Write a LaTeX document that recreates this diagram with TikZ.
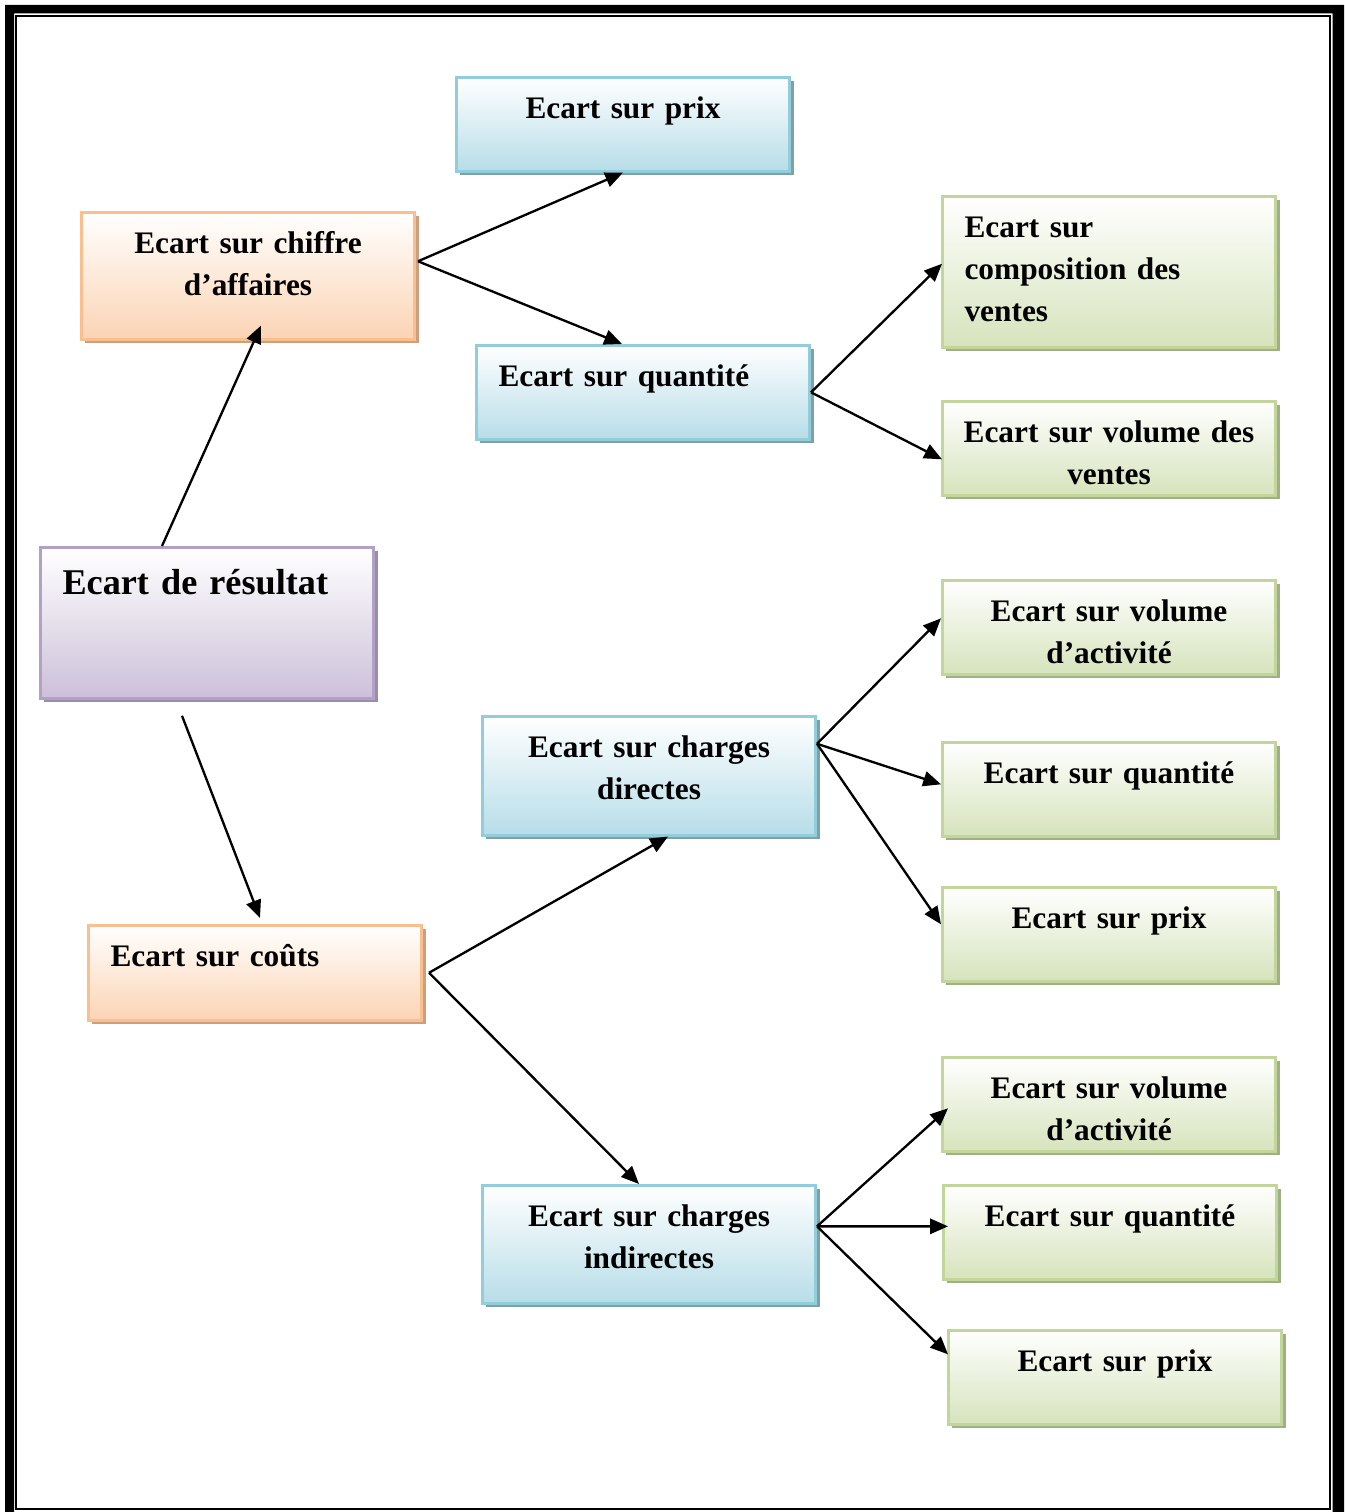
\documentclass[tikz,border=0pt]{standalone}
\usepackage{fontspec}
\setmainfont{Liberation Serif}
\usepackage{tikz}
\usetikzlibrary{arrows.meta, positioning, calc, shadows}
\definecolor{bluebd}{RGB}{146,205,220}
\definecolor{bluefl}{RGB}{183,221,232}
\definecolor{bluesh}{RGB}{128,160,168}
\definecolor{orgbd}{RGB}{250,191,143}
\definecolor{orgfl}{RGB}{251,212,180}
\definecolor{orgsh}{RGB}{204,160,126}
\definecolor{grnbd}{RGB}{194,214,155}
\definecolor{grnfl}{RGB}{214,227,188}
\definecolor{grnsh}{RGB}{160,176,134}
\definecolor{purbd}{RGB}{178,161,199}
\definecolor{purfl}{RGB}{204,192,217}
\definecolor{pursh}{RGB}{152,142,168}
\newcommand{\boxfont}{\fontsize{14.1}{18.9}\selectfont\bfseries}
\newcommand{\bigboxfont}{\fontsize{16.3}{20}\selectfont\bfseries}

\begin{document}
\begin{tikzpicture}[
  x=0.45pt, y=-0.45pt,
  box/.style={rectangle, line width=1.2pt, anchor=north west,
              inner xsep=8pt, inner ysep=0pt, text width=134pt,
              minimum width=150pt, align=center, font=\boxfont,
              text height=18.5pt, text depth=23.8pt},
  boxl/.style={box, inner xsep=10pt, text width=130pt, align=left},
  blu/.style={draw=bluebd, top color=white, bottom color=bluefl,
              drop shadow={shadow xshift=1.8pt, shadow yshift=-1.8pt,
                           fill=bluesh, opacity=1}},
  org/.style={draw=orgbd, top color=white, bottom color=orgfl,
              drop shadow={shadow xshift=1.8pt, shadow yshift=-1.8pt,
                           fill=orgsh, opacity=1}},
  grn/.style={draw=grnbd, top color=white, bottom color=grnfl,
              drop shadow={shadow xshift=1.8pt, shadow yshift=-1.8pt,
                           fill=grnsh, opacity=1}},
  pur/.style={draw=purbd, top color=white, bottom color=purfl,
              drop shadow={shadow xshift=1.8pt, shadow yshift=-1.8pt,
                           fill=pursh, opacity=1}},
  arr/.style={-{Triangle[length=8pt, width=6.8pt]}, line width=1.05pt},
]
\useasboundingbox (0,0) rectangle (1344,1512);
\clip (0,0) rectangle (1344,1512);

% Page frame
\fill[black, even odd rule] (5,5) rectangle (1352,1530)
  (14,13.5) rectangle (1332.5,1530);
\draw[line width=0.9pt] (16,16) rectangle (1330,1509);

% Boxes
\node[box, blu] (pa) at (455,76) {Ecart sur prix};
\node[box, org, text depth=38.6pt] (ca) at (80,211)
  {Ecart sur chiffre\\d'affaires};
\node[boxl, blu] (qa) at (475,344) {Ecart sur quantité};
\node[boxl, grn, text depth=49.4pt] (cv) at (941,195)
  {Ecart sur\\composition des\\ventes};
\node[box, grn] (vv) at (941,400) {Ecart sur volume des\\ventes};
\node[boxl, pur, font=\bigboxfont, text height=21pt, text depth=47pt]
  (res) at (39,546) {Ecart de résultat};
\node[box, grn] (va1) at (941,579) {Ecart sur volume\\d'activité};
\node[box, blu, text depth=35pt] (cd) at (481,715)
  {Ecart sur charges\\directes};
\node[box, grn] (q1) at (941,741) {Ecart sur quantité};
\node[box, grn] (p1) at (941,886) {Ecart sur prix};
\node[boxl, org, text depth=24.2pt] (co) at (87,924) {Ecart sur coûts};
\node[box, grn] (va2) at (941,1056) {Ecart sur volume\\d'activité};
\node[box, blu, text depth=34.6pt] (ci) at (481,1184)
  {Ecart sur charges\\indirectes};
\node[box, grn] (q2) at (942,1184) {Ecart sur quantité};
\node[box, grn] (p2) at (947,1329) {Ecart sur prix};

% Connectors
\draw[arr] ($(res.north)+(-45,0)$) -- ($(ca.south)+(13,-15)$);
\draw[arr] ($(res.south)+(-25,16)$) -- ($(co.north)+(5,-6)$);
\draw[arr] ($(ca.east)+(2,-14.5)$) -- (pa.south);
\draw[arr] ($(ca.east)+(2,-14.5)$) -- ($(qa.north)+(-21,0)$);
\draw[arr] (qa.east) -- ($(cv.west)+(1,-8)$);
\draw[arr] (qa.east) -- ($(vv.west)+(1,11)$);
\draw[arr] ($(co.east)+(6,0)$) -- ($(cd.south)+(19,0)$);
\draw[arr] ($(co.east)+(6,0)$) -- ($(ci.north)+(-10,0)$);
\draw[arr] ($(cd.east)+(0,-32)$) -- ($(va1.west)+(0,-9)$);
\draw[arr] ($(cd.east)+(0,-32)$) -- ($(q1.west)+(0,-5)$);
\draw[arr] ($(cd.east)+(0,-32)$) -- ($(p1.west)+(0,-10)$);
\draw[arr] ($(ci.east)+(0,-18)$) -- ($(va2.west)+(7,4)$);
\draw[arr] ($(ci.east)+(0,-18)$) -- ($(q2.west)+(6,-6)$);
\draw[arr] ($(ci.east)+(0,-18)$) -- ($(p2.west)+(1,-23)$);
\end{tikzpicture}
\end{document}
